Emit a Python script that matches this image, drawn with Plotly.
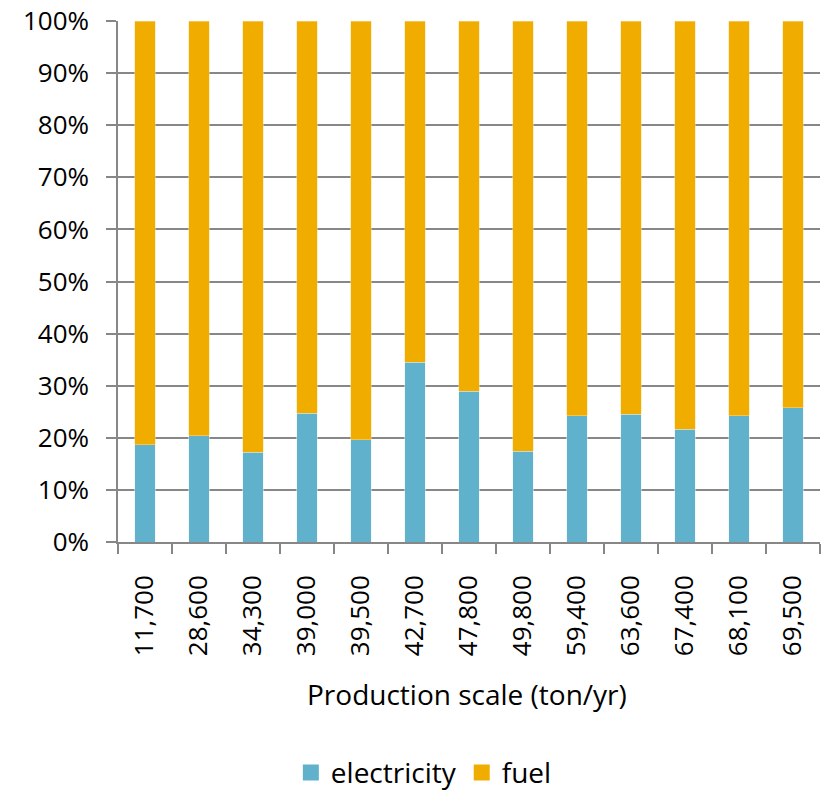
import plotly.graph_objects as go

# Production scale categories (ton/yr)
scales = ["11,700", "28,600", "34,300", "39,000", "39,500", "42,700", "47,800",
          "49,800", "59,400", "63,600", "67,400", "68,100", "69,500"]

# Share of energy use by source (fraction of total)
electricity = [0.187, 0.204, 0.172, 0.247, 0.196, 0.345, 0.289,
               0.174, 0.242, 0.245, 0.216, 0.242, 0.258]
fuel = [1 - e for e in electricity]

y_ticks = [i / 10 for i in range(11)]

FONT = "'Open Sans', sans-serif"
GRID = "#878787"
C_ELEC = "#60B2CC"
C_FUEL = "#F0AD00"

fig = go.Figure()
fig.add_trace(go.Bar(name="electricity", x=scales, y=electricity, showlegend=False,
                     marker=dict(color=C_ELEC, line=dict(color="#E8F4F8", width=0.5))))
fig.add_trace(go.Bar(name="fuel", x=scales, y=fuel, showlegend=False,
                     marker=dict(color=C_FUEL, line=dict(color="#F8E0A0", width=0.5))))

# Legend entries with larger square swatches
for name, col in [("electricity", C_ELEC), ("fuel", C_FUEL)]:
    fig.add_trace(go.Scatter(name=name, x=[None], y=[None], mode="markers",
                             marker=dict(symbol="square", size=20, color=col),
                             showlegend=True))

fig.update_layout(
    barmode="stack",
    bargap=0.615,
    width=823, height=791,
    margin=dict(l=118, r=3, t=21, b=249, autoexpand=False),
    paper_bgcolor="white", plot_bgcolor="white",
    font=dict(family=FONT, size=25, color="#000000"),
    legend=dict(orientation="h", xref="container", yref="container",
                x=0.515, xanchor="center", y=0.023, yanchor="middle",
                font=dict(size=28), traceorder="normal", itemwidth=30),
)

fig.update_xaxes(
    type="category",
    automargin=False,
    tickangle=-90,
    tickson="boundaries",
    ticks="outside", ticklen=10, tickcolor=GRID, tickwidth=1.5,
    ticklabelstandoff=21,
    showline=True, linecolor=GRID, linewidth=1.5,
    showgrid=False,
    tickfont=dict(size=26),
)

fig.update_yaxes(
    range=[0, 1],
    automargin=False,
    tickvals=y_ticks,
    tickformat=".0%",
    ticks="outside", ticklen=10, tickcolor=GRID, tickwidth=1.5,
    ticklabelstandoff=12,
    showline=True, linecolor=GRID, linewidth=1.5,
    showgrid=True, gridcolor=GRID, gridwidth=1.5,
    zeroline=False,
    tickfont=dict(size=26),
)

fig.add_annotation(text="Production scale (ton/yr)", xref="paper", yref="paper",
                   x=0.497, y=-0.292, xanchor="center", yanchor="middle",
                   showarrow=False, font=dict(size=28))

fig.write_html("out.html")
